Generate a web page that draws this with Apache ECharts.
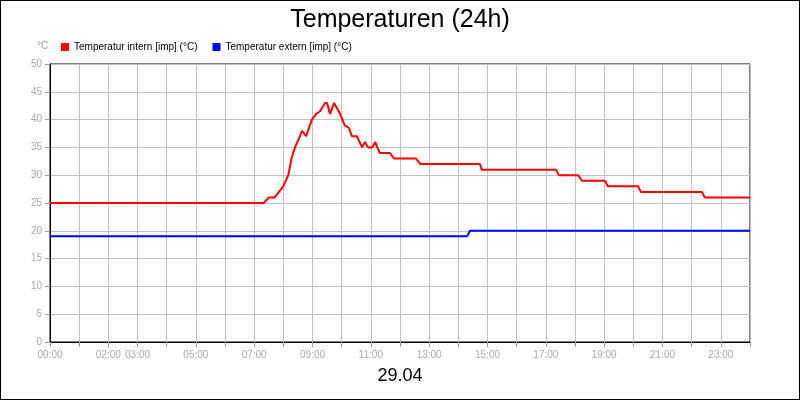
<!DOCTYPE html><html><head><meta charset="utf-8">
<script src="https://cdn.jsdelivr.net/npm/echarts@6/dist/echarts.min.js"></script>
<style>body{margin:0}#c{width:798px;height:398px;border:1px solid #000}</style></head><body><div id="c"></div>
<script>
const seriesNames=['Temperatur intern [imp] (°C)','Temperatur extern [imp] (°C)'];
const redHours=[0,7.33,7.5,7.7,7.85,8.0,8.17,8.28,8.4,8.57,8.64,8.78,8.98,9.12,9.26,9.43,9.5,9.6,9.74,9.95,10.1,10.25,10.35,10.52,10.7,10.8,10.9,11.05,11.15,11.3,11.65,11.8,12.55,12.7,14.74,14.8,17.35,17.45,18.1,18.24,19.03,19.13,20.16,20.26,22.35,22.45,24];
const redValues=[25,25,26,26,27,28,30,33,35,37,38,37,40,41,41.5,43,43,41,43,41,39,38.5,37,37,35,36,35,35,36,34,34,33,33,32,32,31,31,30,30,29,29,28,28,27,27,26,26];
const blueHours=[0,14.3,14.4,24];
const blueValues=[19,19,20,20];
const labeledHours=[0,2,3,5,7,9,11,13,15,17,19,21,23];
const zip=(a,b)=>a.map((h,i)=>[h,b[i]]);
const chart=echarts.init(document.getElementById('c'));
chart.setOption({
 animation:false,backgroundColor:'#fff',
 title:{text:'Temperaturen (24h)',left:'center',top:2,textStyle:{fontSize:25,fontWeight:'normal',color:'#000',fontFamily:'Liberation Sans'}},
 legend:{left:55,top:36,itemWidth:8,itemHeight:8,itemGap:15,icon:'rect',textStyle:{fontSize:10,color:'#000',fontFamily:'Liberation Sans'}},
 graphic:[{type:'text',left:'center',top:366,style:{text:'29.04',fontSize:18,fill:'#000',fontFamily:'Liberation Sans'}},
  {type:'text',left:36,top:40,style:{text:'°C',fontSize:10,fill:'#999'}}],
 grid:{left:49,right:49,top:63,bottom:57,show:true,borderColor:'#000',borderWidth:1},
 xAxis:{type:'value',min:0,max:24,interval:1,
  axisLine:{lineStyle:{color:'#000'}},axisTick:{lineStyle:{color:'#999'}},
  axisLabel:{color:'#aaa',fontSize:10,formatter:v=>labeledHours.includes(v)?String(v).padStart(2,'0')+':00':''},
  splitLine:{lineStyle:{color:'#c0c0c0'}}},
 yAxis:{type:'value',min:0,max:50,interval:5,
  axisLine:{show:true,lineStyle:{color:'#000'}},axisTick:{show:true,lineStyle:{color:'#999'}},
  axisLabel:{color:'#aaa',fontSize:10},splitLine:{lineStyle:{color:'#c0c0c0'}}},
 series:[
  {name:seriesNames[0],type:'line',data:zip(redHours,redValues),showSymbol:false,color:'#f00',lineStyle:{width:2}},
  {name:seriesNames[1],type:'line',data:zip(blueHours,blueValues),showSymbol:false,color:'#00f',lineStyle:{width:2}}]
});
</script></body></html>
